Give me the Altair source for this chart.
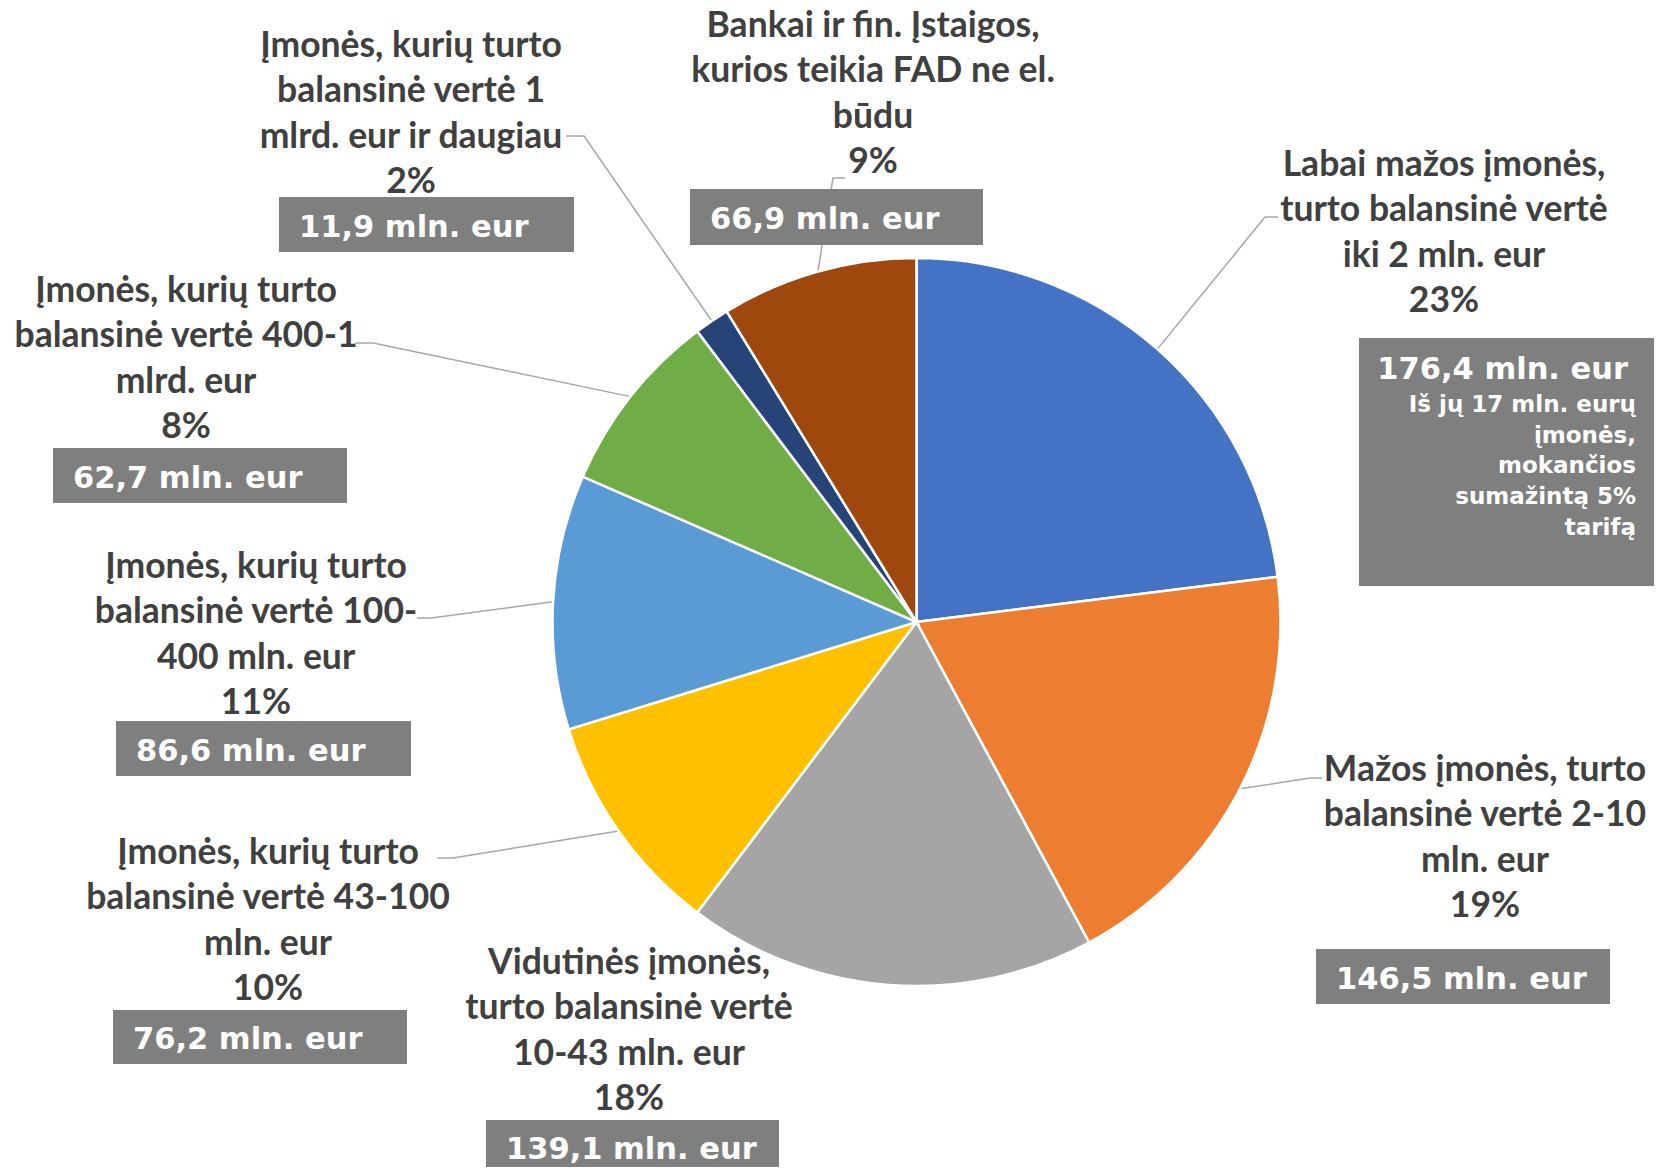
import altair as alt
import pandas as pd
import numpy as np

# ---------------- data ----------------
categories = [
    "Labai mažos įmonės, turto balansinė vertė iki 2 mln. eur",
    "Mažos įmonės, turto balansinė vertė 2-10 mln. eur",
    "Vidutinės įmonės, turto balansinė vertė 10-43 mln. eur",
    "Įmonės, kurių turto balansinė vertė 43-100 mln. eur",
    "Įmonės, kurių turto balansinė vertė 100-400 mln. eur",
    "Įmonės, kurių turto balansinė vertė 400-1 mlrd. eur",
    "Įmonės, kurių turto balansinė vertė 1 mlrd. eur ir daugiau",
    "Bankai ir fin. Įstaigos, kurios teikia FAD ne el. būdu",
]
category_lines = [
    ["Labai mažos įmonės,", "turto balansinė vertė", "iki 2 mln. eur"],
    ["Mažos įmonės, turto", "balansinė vertė 2-10", "mln. eur"],
    ["Vidutinės įmonės,", "turto balansinė vertė", "10-43 mln. eur"],
    ["Įmonės, kurių turto", "balansinė vertė 43-100", "mln. eur"],
    ["Įmonės, kurių turto", "balansinė vertė 100-", "400 mln. eur"],
    ["Įmonės, kurių turto", "balansinė vertė 400-1", "mlrd. eur"],
    ["Įmonės, kurių turto", "balansinė vertė 1", "mlrd. eur ir daugiau"],
    ["Bankai ir fin. Įstaigos,", "kurios teikia FAD ne el.", "būdu"],
]
values = [176.4, 146.5, 139.1, 76.2, 86.6, 62.7, 11.9, 66.9]
note_lines = ["Iš jų 17 mln. eurų", "įmonės,", "mokančios", "sumažintą 5%", "tarifą"]

# ---------------- styles / layout (page coordinates) ----------------
colors = ["#4472C4", "#ED7D31", "#A5A5A5", "#FFC000", "#5B9BD5", "#70AD47", "#264478", "#9E480E"]
OFF = 8
W, H = 1654, 1159
CX, CY, R = 916.5, 622, 364
LABEL_LH = 45.5

# centre x and first-line centre y of each label block
label_pos = [(1444, 164.5), (1485, 769.5), (629, 962.5), (268, 852.5),
             (256, 566.5), (186, 290.5), (411, 45.5), (873, 25.5)]
boxes = [(1359, 338, 1654, 586), (1316, 949, 1610, 1004), (486, 1120, 779, 1175),
         (113, 1010, 407, 1064), (116, 721, 411, 776), (53, 448, 347, 503),
         (279, 197, 574, 252), (690, 189, 983, 245)]
value_pos = [(1628, 370, "right"), (1336, 979.5, "left"), (506, 1150, "left"),
             (133, 1040, "left"), (136, 751.5, "left"), (73, 478.5, "left"),
             (299, 227.5, "left"), (710, 220, "left")]
note_pos = (1636, 405, 30.7)
leader_start = [((1278, 217), (1265, 217)), ((1322, 778), (1310, 778)), None,
                ((437, 858), (453, 858)), ((417, 618), (431, 618)),
                ((355, 343), (373, 343)), ((566, 136), (584, 136)),
                ((845, 178), (833, 178))]

total = sum(values)
pct = [f"{round(v / total * 100)}%" for v in values]
value_text = [f"{v:.1f}".replace(".", ",") + " mln. eur" for v in values]

# pie
pie_df = pd.DataFrame({"cat": categories, "value": values, "idx": list(range(len(values)))})
pie = alt.Chart(pie_df).mark_arc(radius=R, stroke="white", strokeWidth=2.5).encode(
    theta=alt.Theta("value:Q", stack=True),
    color=alt.Color("cat:N", scale=alt.Scale(domain=categories, range=colors), legend=None),
    order=alt.Order("idx:Q"),
    x=alt.value(CX - OFF),
    y=alt.value(CY - OFF),
)

# leader lines (slice end at mid-angle on the rim)
cum = np.cumsum([0] + values[:-1])
rows = []
for i, ls in enumerate(leader_start):
    if ls is None:
        continue
    mid = (cum[i] + values[i] / 2) / total * 2 * np.pi
    sx, sy = CX + R * np.sin(mid), CY - R * np.cos(mid)
    for k, (px, py) in enumerate([ls[0], ls[1], (sx, sy)]):
        rows.append({"g": i, "k": k, "x": px - OFF, "y": py - OFF})
lead_df = pd.DataFrame(rows)
leaders = alt.Chart(lead_df).mark_line(color="#A6A6A6", strokeWidth=1.5).encode(
    x=alt.X("x:Q", scale=None, axis=None),
    y=alt.Y("y:Q", scale=None, axis=None),
    detail="g:N",
    order="k:Q",
)

# category labels
lab_df = pd.DataFrame({
    "text": ["\n".join(category_lines[i] + [pct[i]]) for i in range(len(values))],
    "x": [p[0] - OFF for p in label_pos],
    "y": [p[1] - OFF for p in label_pos],
})
labels = alt.Chart(lab_df).mark_text(
    font="Lato", fontWeight="bold", fontSize=35.5, color="#404040",
    align="center", baseline="middle", lineBreak="\n", lineHeight=LABEL_LH,
).encode(
    x=alt.X("x:Q", scale=None, axis=None),
    y=alt.Y("y:Q", scale=None, axis=None),
    text="text:N",
)

# value boxes
box_df = pd.DataFrame({
    "x": [b[0] - OFF for b in boxes], "y": [b[1] - OFF for b in boxes],
    "x2": [b[2] - OFF for b in boxes], "y2": [min(b[3] - OFF, H) for b in boxes],
})
rects = alt.Chart(box_df).mark_rect(color="#7F7F7F").encode(
    x=alt.X("x:Q", scale=None, axis=None), x2="x2:Q",
    y=alt.Y("y:Q", scale=None, axis=None), y2="y2:Q",
)

val_df = pd.DataFrame({
    "text": value_text,
    "x": [p[0] - OFF for p in value_pos],
    "y": [p[1] - OFF for p in value_pos],
    "align": [p[2] for p in value_pos],
})
val_layers = []
for al in ["left", "right"]:
    val_layers.append(
        alt.Chart(val_df[val_df["align"] == al]).mark_text(
            font="DejaVu Sans", fontWeight="bold", fontSize=30.5, color="white",
            align=al, baseline="middle",
        ).encode(
            x=alt.X("x:Q", scale=None, axis=None),
            y=alt.Y("y:Q", scale=None, axis=None),
            text="text:N",
        )
    )

note_df = pd.DataFrame({"text": ["\n".join(note_lines)],
                        "x": [note_pos[0] - OFF], "y": [note_pos[1] - OFF]})
note = alt.Chart(note_df).mark_text(
    font="DejaVu Sans", fontWeight="bold", fontSize=23, color="white",
    align="right", baseline="middle", lineBreak="\n", lineHeight=note_pos[2],
).encode(
    x=alt.X("x:Q", scale=None, axis=None),
    y=alt.Y("y:Q", scale=None, axis=None),
    text="text:N",
)

chart = alt.layer(leaders, pie, rects, labels, note, *val_layers).properties(
    width=W, height=H,
    autosize=alt.AutoSizeParams(type="none"),
    padding=0,
).configure_view(stroke=None)

chart.save("out.html", embed_options={"renderer": "svg", "actions": False})
